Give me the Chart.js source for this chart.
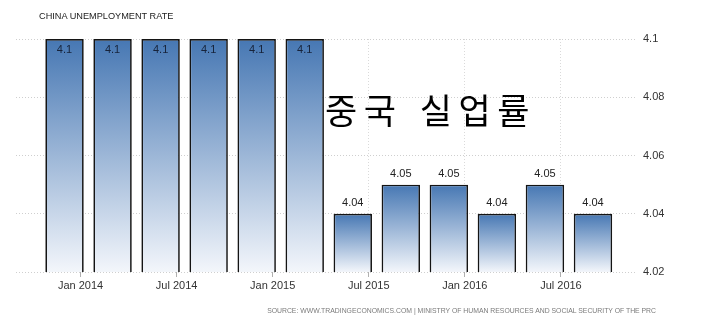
<!DOCTYPE html>
<html><head><meta charset="utf-8">
<script src="https://cdn.jsdelivr.net/npm/chart.js@4/dist/chart.umd.min.js"></script>
<style>
html,body{margin:0;padding:0;background:#fff;}
#wrap{position:relative;width:720px;height:325px;overflow:hidden;}
#title{position:absolute;left:39px;top:10px;font:9.2px "Liberation Sans",Arial,sans-serif;color:#222;white-space:nowrap;line-height:12px;}
#source{position:absolute;right:64px;top:306px;font:6.85px "Liberation Sans",Arial,sans-serif;color:#7a7a7a;white-space:nowrap;line-height:10px;}
#ko{position:absolute;left:325px;top:87px;font:35px "Noto Sans CJK KR",sans-serif;color:#000;white-space:pre;line-height:44px;letter-spacing:6.5px;word-spacing:3px;}
</style></head>
<body><div id="wrap"><canvas id="c" width="720" height="325"></canvas>
<div id="title">CHINA UNEMPLOYMENT RATE</div>
<div id="ko">중국 실업률</div>
<div id="source">SOURCE: WWW.TRADINGECONOMICS.COM | MINISTRY OF HUMAN RESOURCES AND SOCIAL SECURITY OF THE PRC</div></div>
<script>
const quarters = ['2013-12','2014-03','2014-06','2014-09','2014-12','2015-03','2015-06','2015-09','2015-12','2016-03','2016-06','2016-09'];
const unemploymentRate = [4.1,4.1,4.1,4.1,4.1,4.1,4.04,4.05,4.05,4.04,4.05,4.04];
const xTickLabels = ['Jan 2014','Jul 2014','Jan 2015','Jul 2015','Jan 2016','Jul 2016'];
const yTickValues = [4.02,4.04,4.06,4.08,4.1];
const yTickLabels = ['4.02','4.04','4.06','4.08','4.1'];

const MONTHS = {Jan:0,Feb:1,Mar:2,Apr:3,May:4,Jun:5,Jul:6,Aug:7,Sep:8,Oct:9,Nov:10,Dec:11};
function monthIndexFromISO(s){const p=s.split('-').map(Number);return (p[0]-2014)*12+(p[1]-1);}
function monthIndexFromLabel(s){const p=s.split(' ');return (Number(p[1])-2014)*12+MONTHS[p[0]];}

const points = quarters.map((q,i)=>({x:monthIndexFromISO(q), y:unemploymentRate[i]}));

const valueLabels = {
  id:'valueLabels',
  afterDatasetsDraw(chart){
    const {ctx, chartArea} = chart;
    const meta = chart.getDatasetMeta(0);
    ctx.save();
    ctx.font = '11px "Liberation Sans", Arial, sans-serif';
    ctx.textAlign='center'; ctx.textBaseline='middle';
    meta.data.forEach((bar,i)=>{
      const v = unemploymentRate[i];
      let y = bar.y - 11, color = '#222';
      if (y - 6 < chartArea.top) { y = bar.y + 11; color = '#17233a'; }
      ctx.fillStyle = color;
      ctx.fillText(String(v), bar.x, y);
    });
    ctx.restore();
  }
};

new Chart(document.getElementById('c'), {
  type:'bar',
  data:{ datasets:[{
    data: points,
    backgroundColor: c => {
      const ch = c.chart, ys = ch.scales.y;
      if (!ys || !ch.chartArea || c.type !== 'data') return '#6a93c4';
      const top = ys.getPixelForValue(c.raw.y), bottom = ys.getPixelForValue(ys.min);
      if (!isFinite(top) || !isFinite(bottom) || top === bottom) return '#6a93c4';
      const g = ch.ctx.createLinearGradient(0, top, 0, bottom);
      g.addColorStop(0,'#4677b3'); g.addColorStop(1,'#f3f6fb');
      return g;
    },
    borderColor:'#141414', borderWidth:1.7, borderSkipped:false,
    barPercentage:0.8, categoryPercentage:1
  }]},
  options:{
    responsive:false, animation:false, devicePixelRatio:1,
    layout:{padding:{top:39,left:16,right:0,bottom:0}},
    plugins:{legend:{display:false}, tooltip:{enabled:false}},
    scales:{
      x:{ type:'linear', min:-4.03, max:34.75, offset:false,
        grid:{offset:false, color:'#dadada', tickColor:'#b0b0b0', tickLength:5, tickBorderDash:[]},
        border:{display:false, dash:[1,2]},
        afterBuildTicks: s => { s.ticks = xTickLabels.map(l=>({value:monthIndexFromLabel(l)})); },
        afterFit: s => { s.height = 53; },
        ticks:{autoSkip:false, maxRotation:0, padding:2, color:'#333', font:{family:'"Liberation Sans", Arial, sans-serif', size:11},
          callback:(v,i)=>xTickLabels[i]}
      },
      y:{ position:'right', min:4.02, max:4.1,
        grid:{color:'#cfcfcf', drawTicks:false},
        border:{display:false, dash:[1,2]},
        afterBuildTicks: s => { s.ticks = yTickValues.map(v=>({value:v})); },
        afterFit: s => { s.width = 83; },
        ticks:{padding:6, color:'#333', font:{family:'"Liberation Sans", Arial, sans-serif', size:11},
          callback:(v,i)=>yTickLabels[i]}
      }
    }
  },
  plugins:[valueLabels]
});
</script>
</body></html>
